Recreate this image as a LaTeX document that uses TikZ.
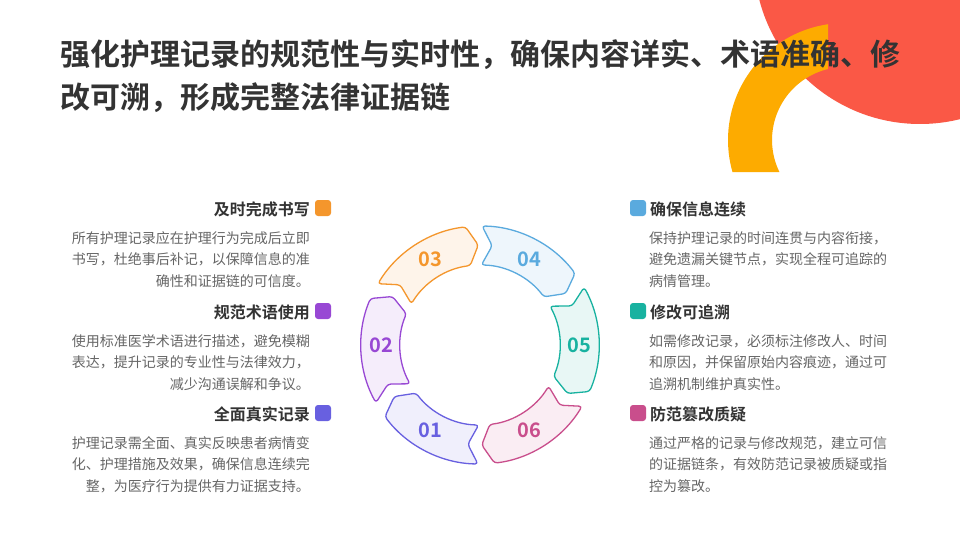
\documentclass[tikz,border=0pt]{standalone}
\usepackage{fontspec}
\setmainfont{Noto Sans CJK SC}[BoldFont={Noto Sans CJK SC Bold}]
\definecolor{redc}{RGB}{250,88,70}
\definecolor{yellowc}{RGB}{253,171,0}
\definecolor{darktext}{RGB}{51,51,51}
\definecolor{bodytext}{RGB}{102,102,102}
\definecolor{cA}{RGB}{104,96,224}
\definecolor{cB}{RGB}{152,72,212}
\definecolor{cC}{RGB}{244,150,44}
\definecolor{cD}{RGB}{90,170,222}
\definecolor{cE}{RGB}{24,178,160}
\definecolor{cF}{RGB}{201,78,140}
\tikzset{
  titletext/.style={anchor=base west, inner sep=0pt, text=darktext, font=\fontsize{30}{36}\selectfont\bfseries},
  headL/.style={anchor=base east, inner sep=0pt, text=darktext, font=\fontsize{16}{20}\selectfont\bfseries},
  headR/.style={anchor=base west, inner sep=0pt, text=darktext, font=\fontsize{16}{20}\selectfont\bfseries},
  bodyL/.style={anchor=base east, inner sep=0pt, text=bodytext, font=\fontsize{14}{18}\selectfont},
  bodyR/.style={anchor=base west, inner sep=0pt, text=bodytext, font=\fontsize{14}{18}\selectfont},
  marker/.style={minimum size=16pt, inner sep=0pt, rounded corners=3pt, fill=#1},
  segnum/.style={inner sep=0pt, text=#1, font=\fontsize{20}{24}\selectfont\bfseries},
}
\newcommand\ringseg[2]{%
  \draw[line width=1.3pt, draw=#2, fill=#2!10, rounded corners=3pt, line join=round]
    ({#1+29}:119) arc[start angle={#1+29}, end angle={#1-23}, radius=119]
    -- ({#1-29}:100) -- ({#1-23}:80)
    arc[start angle={#1-23}, end angle={#1+29}, radius=80]
    -- ({#1+23}:100) -- cycle;
}
\begin{document}
\begin{tikzpicture}[x=1pt,y=-1pt]
\useasboundingbox (0,0) rectangle (960,540);
\clip (0,0) rectangle (960,540);
\fill[white] (0,0) rectangle (960,540);
% decoration
\fill[redc] (920,-42) circle[radius=166];
\begin{scope}[shift={(845,140)}, yscale=-1]
  \fill[yellowc] (98.35:117) arc[start angle=98.35, end angle=195.9, radius=117]
    -- (206:73) arc[start angle=206, end angle=103.5, radius=73] -- cycle;
\end{scope}
% title
\node[titletext] (t1) at (60,65.4) {强化护理记录的规范性与实时性，确保内容详实、术语准确、修};
\node[titletext] (t2) at (60,108.4) {改可溯，形成完整法律证据链};
% ring
\begin{scope}[shift={(480,345)}, yscale=-1]
  \ringseg{240}{cA}
  \ringseg{180}{cB}
  \ringseg{120}{cC}
  \ringseg{60}{cD}
  \ringseg{0}{cE}
  \ringseg{300}{cF}
  \node[segnum=cA] (n1) at (240:99) {01};
  \node[segnum=cB] (n2) at (180:99) {02};
  \node[segnum=cC] (n3) at (120:99) {03};
  \node[segnum=cD] (n4) at (60:99) {04};
  \node[segnum=cE] (n5) at (0:99) {05};
  \node[segnum=cF] (n6) at (300:99) {06};
\end{scope}
% left block 1
\node[headL] (h1) at (310,215) {及时完成书写};
\node[marker=cC] (m1) at (323,208) {};
\node[bodyL] (b1a) at (310,243.3) {所有护理记录应在护理行为完成后立即};
\node[bodyL] (b1b) at (310,264.8) {书写，杜绝事后补记，以保障信息的准};
\node[bodyL] (b1c) at (310,286.3) {确性和证据链的可信度。};
% left block 2
\node[headL] (h2) at (310,318) {规范术语使用};
\node[marker=cB] (m2) at (323,311) {};
\node[bodyL] (b2a) at (310,346.3) {使用标准医学术语进行描述，避免模糊};
\node[bodyL] (b2b) at (310,367.8) {表达，提升记录的专业性与法律效力，};
\node[bodyL] (b2c) at (310,389.3) {减少沟通误解和争议。};
% left block 3
\node[headL] (h3) at (310,420) {全面真实记录};
\node[marker=cA] (m3) at (323,413) {};
\node[bodyL] (b3a) at (310,448.3) {护理记录需全面、真实反映患者病情变};
\node[bodyL] (b3b) at (310,469.8) {化、护理措施及效果，确保信息连续完};
\node[bodyL] (b3c) at (310,491.3) {整，为医疗行为提供有力证据支持。};
% right block 1
\node[marker=cD] (m4) at (638,208) {};
\node[headR] (h4) at (650,215) {确保信息连续};
\node[bodyR] (b4a) at (649,243.3) {保持护理记录的时间连贯与内容衔接，};
\node[bodyR] (b4b) at (649,264.8) {避免遗漏关键节点，实现全程可追踪的};
\node[bodyR] (b4c) at (649,286.3) {病情管理。};
% right block 2
\node[marker=cE] (m5) at (638,311) {};
\node[headR] (h5) at (650,318) {修改可追溯};
\node[bodyR] (b5a) at (649,346.3) {如需修改记录，必须标注修改人、时间};
\node[bodyR] (b5b) at (649,367.8) {和原因，并保留原始内容痕迹，通过可};
\node[bodyR] (b5c) at (649,389.3) {追溯机制维护真实性。};
% right block 3
\node[marker=cF] (m6) at (638,413) {};
\node[headR] (h6) at (650,420) {防范篡改质疑};
\node[bodyR] (b6a) at (649,448.3) {通过严格的记录与修改规范，建立可信};
\node[bodyR] (b6b) at (649,469.8) {的证据链条，有效防范记录被质疑或指};
\node[bodyR] (b6c) at (649,491.3) {控为篡改。};
\end{tikzpicture}
\end{document}
